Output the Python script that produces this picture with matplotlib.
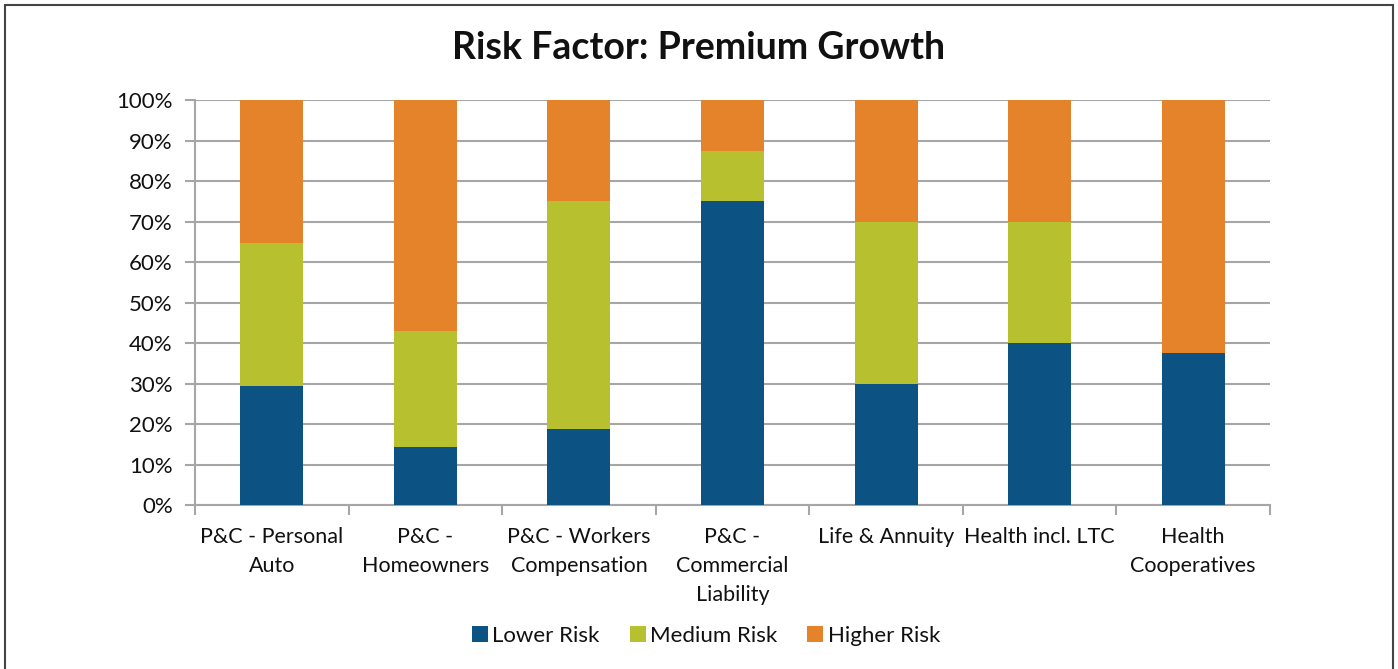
import matplotlib

matplotlib.use("Agg")
import matplotlib.pyplot as plt
import numpy as np
from matplotlib.patches import Rectangle
from matplotlib.ticker import FixedLocator, PercentFormatter

CATEGORIES = [
    "P&C - Personal\nAuto",
    "P&C -\nHomeowners",
    "P&C - Workers\nCompensation",
    "P&C -\nCommercial\nLiability",
    "Life & Annuity",
    "Health incl. LTC",
    "Health\nCooperatives",
]
LOWER = [29.4, 14.3, 18.75, 75.0, 30.0, 40.0, 37.5]
MEDIUM = [35.3, 28.6, 56.25, 12.5, 40.0, 30.0, 0.0]
HIGHER = [35.3, 57.1, 25.0, 12.5, 30.0, 30.0, 62.5]

SERIES = ["Lower Risk", "Medium Risk", "Higher Risk"]
COLORS = ["#0C5384", "#B7C02F", "#E4832A"]
GRID = "#A6A6A6"

plt.rcParams["font.family"] = ["Lato", "DejaVu Sans"]

fig = plt.figure(figsize=(13.98, 6.69), dpi=100)
ax = fig.add_axes([0.1395, 0.2451, 0.7689, 0.6054])

x = np.arange(len(CATEGORIES))
w = 0.41
bottom = np.zeros(len(CATEGORIES))
for name, vals, col in zip(SERIES, [LOWER, MEDIUM, HIGHER], COLORS):
    vals = np.array(vals)
    ax.bar(x, vals, w, bottom=bottom, color=col, label=name, zorder=3)
    bottom += vals

ax.set_xlim(-0.5, len(CATEGORIES) - 0.5)
ax.set_ylim(0, 100)
ax.set_yticks(np.arange(0, 101, 10))
ax.yaxis.set_major_formatter(PercentFormatter(decimals=0))
ax.grid(axis="y", color=GRID, linewidth=1.5, zorder=0)

ax.set_xticks(x)
ax.set_xticklabels(CATEGORIES, fontsize=15.5, linespacing=1.55, color="#111111")
ax.xaxis.set_minor_locator(FixedLocator(np.arange(-0.5, len(CATEGORIES), 1.0)))
ax.tick_params(axis="x", which="major", length=0, pad=16)
ax.tick_params(axis="x", which="minor", length=7, width=1.5, color=GRID)
ax.tick_params(axis="y", length=7, width=1.5, color=GRID, labelsize=16,
               labelcolor="#111111", pad=9)

for side in ("top", "right"):
    ax.spines[side].set_visible(False)
for side in ("left", "bottom"):
    ax.spines[side].set_color(GRID)
    ax.spines[side].set_linewidth(1.5)

fig.text(0.5, 0.928, "Risk Factor: Premium Growth", ha="center", va="center",
         fontsize=27, fontweight="bold", color="#111111")

fig.legend(loc="center", bbox_to_anchor=(0.505, 0.0493), ncol=3, frameon=False,
           fontsize=16, handlelength=0.72, handleheight=0.72, handletextpad=0.2,
           columnspacing=1.35, labelcolor="#111111")

fig.patches.append(Rectangle((0.0036, -0.05), 0.9928, 1.0425, transform=fig.transFigure,
                             fill=False, edgecolor="#444444", linewidth=1.5))

fig.savefig("out.png", dpi=100)
